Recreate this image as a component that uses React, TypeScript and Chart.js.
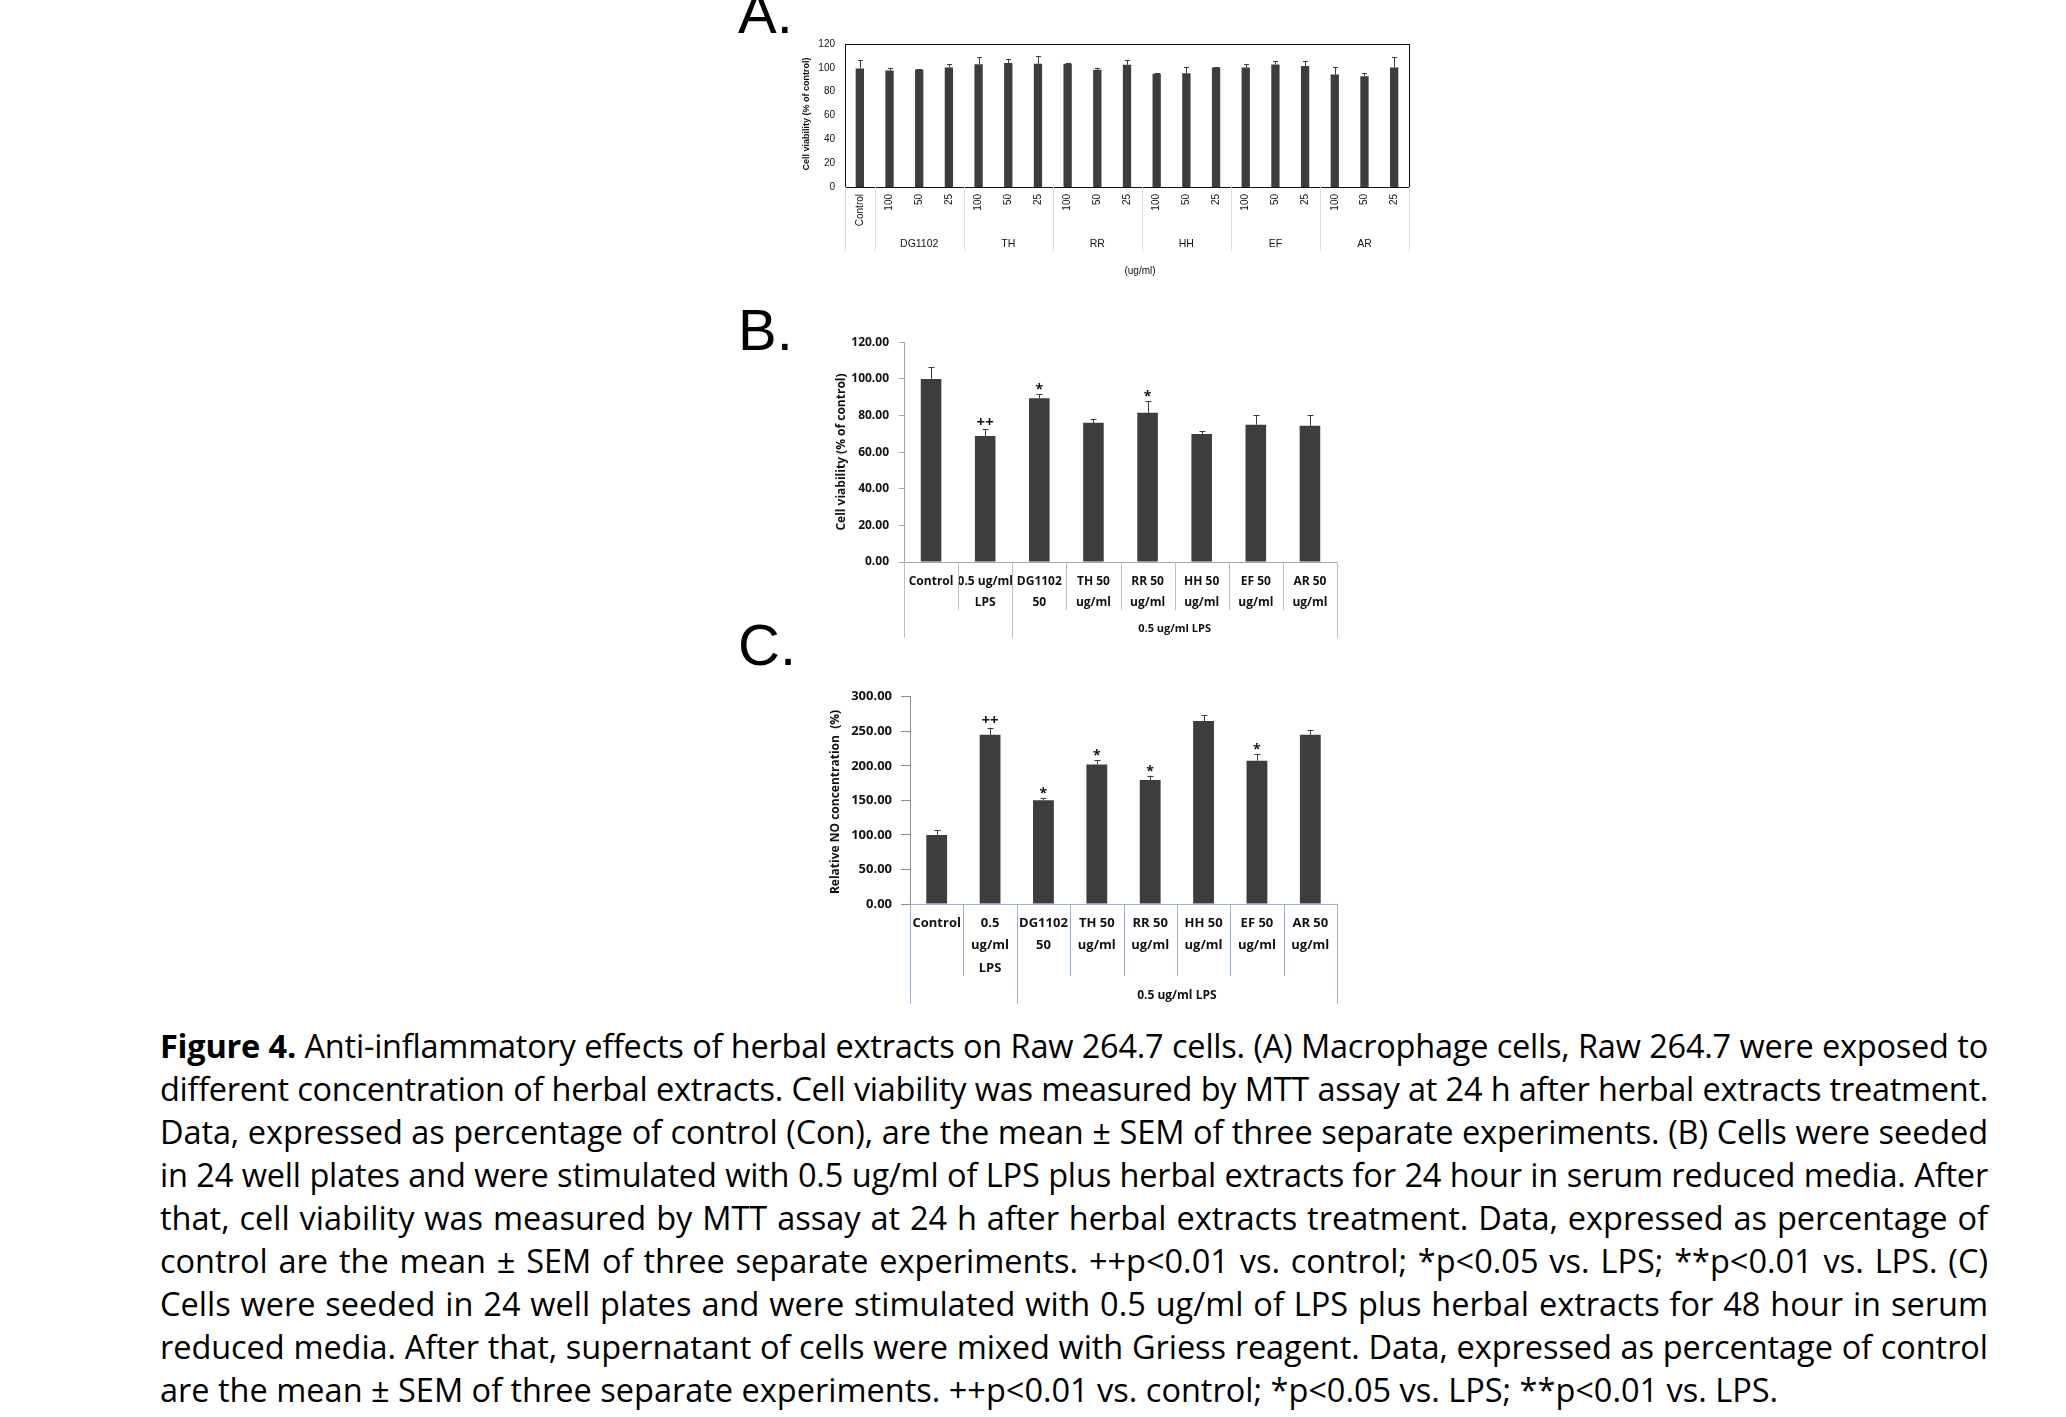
import React, { useEffect, useLayoutEffect, useRef } from "react";
import { Chart, registerables } from "chart.js";

Chart.register(...registerables);

// ---------------- Panel A data ----------------
const catsA = ["Control", "100", "50", "25", "100", "50", "25", "100", "50", "25", "100", "50", "25", "100", "50", "25", "100", "50", "25"];
const groupsA = ["DG1102", "TH", "RR", "HH", "EF", "AR"];
const valuesA = [99.5, 97.8, 98.6, 100.3, 103.1, 104, 103.4, 103.4, 98.4, 102.6, 95, 95.5, 100.3, 100.3, 102.9, 101.5, 94.4, 93, 100.3];
const errorsA = [6.7, 1.7, 0.4, 2.7, 5.9, 3.6, 6.6, 0.6, 1.6, 3.9, 0.5, 4.8, 0.3, 2.7, 2.8, 4.5, 6.2, 2.5, 8.7];
const unitA = "(ug/ml)";
const titleA = "Cell viability (% of control)";

// ---------------- Panel B data ----------------
const catsB = [["Control"], ["0.5 ug/ml", "LPS"], ["DG1102", "50"], ["TH 50", "ug/ml"], ["RR 50", "ug/ml"], ["HH 50", "ug/ml"], ["EF 50", "ug/ml"], ["AR 50", "ug/ml"]];
const valuesB = [100, 68.8, 89.4, 76, 81.5, 69.9, 75, 74.4];
const errorsB = [6.5, 3.6, 2.2, 2.0, 6.4, 1.4, 5.2, 5.8];
const marksB = ["", "++", "*", "", "*", "", "", ""];
const groupB = "0.5 ug/ml LPS";
const titleB = "Cell viability (% of control)";

// ---------------- Panel C data ----------------
const catsC = [["Control"], ["0.5", "ug/ml", "LPS"], ["DG1102", "50"], ["TH 50", "ug/ml"], ["RR 50", "ug/ml"], ["HH 50", "ug/ml"], ["EF 50", "ug/ml"], ["AR 50", "ug/ml"]];
const valuesC = [100, 245, 150, 202, 179.4, 264.8, 207.4, 245];
const errorsC = [6.6, 10, 3, 6.4, 6.3, 8.2, 9.6, 7];
const marksC = ["", "++", "*", "*", "*", "", "*", ""];
const groupC = "0.5 ug/ml LPS";
const titleC = "Relative NO concentration  (%)";

// ---------------- Caption ----------------
const captionBold = "Figure 4.";
const captionLines = [
  " Anti-inflammatory effects of herbal extracts on Raw 264.7 cells. (A) Macrophage cells, Raw 264.7 were exposed to",
  "different concentration of herbal extracts. Cell viability was measured by MTT assay at 24 h after herbal extracts treatment.",
  "Data, expressed as percentage of control (Con), are the mean ± SEM of three separate experiments. (B) Cells were seeded",
  "in 24 well plates and were stimulated with 0.5 ug/ml of LPS plus herbal extracts for 24 hour in serum reduced media. After",
  "that, cell viability was measured by MTT assay at 24 h after herbal extracts treatment. Data, expressed as percentage of",
  "control are the mean ± SEM of three separate experiments. ++p<0.01 vs. control; *p<0.05 vs. LPS; **p<0.01 vs. LPS. (C)",
  "Cells were seeded in 24 well plates and were stimulated with 0.5 ug/ml of LPS plus herbal extracts for 48 hour in serum",
  "reduced media. After that, supernatant of cells were mixed with Griess reagent. Data, expressed as percentage of control",
  "are the mean ± SEM of three separate experiments. ++p<0.01 vs. control; *p<0.05 vs. LPS; **p<0.01 vs. LPS.",
];

const ARIAL = "'Liberation Sans', Arial, sans-serif";
const OPEN = "'Open Sans', 'Noto Sans', sans-serif";
const BAR = "#3d3d3d";

type Txt = { text: string; x: number; y: number; font: string; rot?: boolean };
type Spec = {
  box: { left: number; top: number; width: number; height: number };
  area: { left: number; top: number; right: number; bottom: number };
  labels: any[];
  values: number[];
  errors: number[];
  marks?: string[];
  markFont?: string;
  plusFont?: string;
  yMax: number;
  yStep: number;
  yDec: number;
  barPct: number;
  cap: number;
  yFont: any;
  yPad: number;
  yTickLen: number;
  yAxisColor: string | null;
  xFont: any;
  xPad: number;
  xRot: number;
  xBorder: string | null;
  frame: boolean;
  sepColor: string;
  minorSeps: number[];
  minorBottom: number;
  majorSeps: number[];
  majorBottom: number;
  groups: { text: string; from: number; to: number; y: number; font: string }[];
  texts: Txt[];
};

function overlay(s: Spec) {
  return {
    id: "overlay",
    afterDraw(chart: any) {
      const { ctx, chartArea } = chart;
      const xs = chart.scales.x;
      const ys = chart.scales.y;
      const ox = s.box.left;
      const oy = s.box.top;
      const bx = (k: number) => xs.getPixelForValue(k - 0.5);
      ctx.save();
      if (s.frame) {
        ctx.strokeStyle = "#111";
        ctx.lineWidth = 1;
        ctx.strokeRect(Math.round(chartArea.left) + 0.5, Math.round(chartArea.top) + 0.5,
          Math.round(chartArea.right - chartArea.left), Math.round(chartArea.bottom - chartArea.top));
      }
      // separators below axis
      ctx.strokeStyle = s.sepColor;
      ctx.lineWidth = 1;
      const drawSep = (k: number, bottom: number) => {
        const x = Math.round(bx(k)) + 0.5;
        ctx.beginPath();
        ctx.moveTo(x, chartArea.bottom);
        ctx.lineTo(x, bottom - oy);
        ctx.stroke();
      };
      s.minorSeps.forEach((k) => drawSep(k, s.minorBottom));
      s.majorSeps.forEach((k) => drawSep(k, s.majorBottom));
      // error bars + marks
      const meta = chart.getDatasetMeta(0);
      ctx.strokeStyle = BAR;
      ctx.fillStyle = "#111";
      meta.data.forEach((bar: any, i: number) => {
        const x = Math.round(bar.x) + 0.5;
        const yv = ys.getPixelForValue(s.values[i]);
        const yt = ys.getPixelForValue(s.values[i] + s.errors[i]);
        ctx.beginPath();
        ctx.moveTo(x, yv);
        ctx.lineTo(x, yt);
        ctx.moveTo(x - s.cap, Math.round(yt) + 0.5);
        ctx.lineTo(x + s.cap, Math.round(yt) + 0.5);
        ctx.stroke();
        const m = s.marks ? s.marks[i] : "";
        if (m) {
          ctx.font = m === "*" ? s.markFont : s.plusFont;
          ctx.textAlign = "center";
          ctx.textBaseline = "alphabetic";
          ctx.fillText(m, bar.x, yt - (m === "*" ? 0 : 2.5));
        }
      });
      // group labels
      ctx.fillStyle = "#111";
      ctx.textAlign = "center";
      ctx.textBaseline = "middle";
      s.groups.forEach((g) => {
        ctx.font = g.font;
        ctx.fillText(g.text, (bx(g.from) + bx(g.to)) / 2, g.y - oy);
      });
      // free texts
      s.texts.forEach((t) => {
        ctx.save();
        ctx.font = t.font;
        ctx.translate(t.x - ox, t.y - oy);
        if (t.rot) ctx.rotate(-Math.PI / 2);
        ctx.fillText(t.text, 0, 0);
        ctx.restore();
      });
      ctx.restore();
    },
  };
}

function buildConfig(s: Spec): any {
  const a = s.area;
  const b = s.box;
  return {
    type: "bar",
    data: {
      labels: s.labels,
      datasets: [{
        data: s.values,
        backgroundColor: BAR,
        borderWidth: 0,
        barPercentage: s.barPct,
        categoryPercentage: 1,
      }],
    },
    options: {
      responsive: false,
      animation: false,
      devicePixelRatio: 1,
      events: [],
      layout: { padding: { left: 0, top: a.top - b.top, right: b.left + b.width - a.right, bottom: 0 } },
      plugins: { legend: { display: false }, tooltip: { enabled: false }, title: { display: false } },
      scales: {
        x: {
          type: "category",
          offset: true,
          grid: { display: false, drawTicks: false },
          border: { display: !!s.xBorder, color: s.xBorder || "#000", width: 1 },
          ticks: { autoSkip: false, maxRotation: s.xRot, minRotation: s.xRot, padding: s.xPad, color: "#111", font: s.xFont },
          afterFit: (sc: any) => { sc.height = b.top + b.height - a.bottom; },
        },
        y: {
          type: "linear",
          min: 0,
          max: s.yMax,
          grid: s.yAxisColor
            ? { display: true, drawOnChartArea: false, drawTicks: true, tickLength: s.yTickLen, color: s.yAxisColor }
            : { display: false, drawTicks: false },
          border: { display: !!s.yAxisColor, color: s.yAxisColor || "#000", width: 1 },
          ticks: {
            stepSize: s.yStep,
            padding: s.yPad,
            color: "#111",
            font: s.yFont,
            callback: (v: any) => Number(v).toFixed(s.yDec),
          },
          afterFit: (sc: any) => { sc.width = a.left - b.left; },
        },
      },
    },
    plugins: [overlay(s)],
  };
}

const specA: Spec = {
  box: { left: 730, top: 0, width: 700, height: 290 },
  area: { left: 845, top: 44, right: 1409, bottom: 187 },
  labels: catsA,
  values: valuesA,
  errors: errorsA,
  yMax: 120,
  yStep: 20,
  yDec: 0,
  barPct: 0.28,
  cap: 2.5,
  yFont: { family: ARIAL, size: 10 },
  yPad: 10,
  yTickLen: 0,
  yAxisColor: null,
  xFont: { family: ARIAL, size: 10 },
  xPad: 7,
  xRot: 90,
  xBorder: null,
  frame: true,
  sepColor: "#dcdcdc",
  minorSeps: [],
  minorBottom: 250,
  majorSeps: [0, 1, 4, 7, 10, 13, 16, 19],
  majorBottom: 251,
  groups: groupsA.map((g, i) => ({ text: g, from: 1 + 3 * i, to: 4 + 3 * i, y: 244, font: `10.5px ${ARIAL}` })),
  texts: [
    { text: unitA, x: 1140, y: 271, font: `10px ${ARIAL}` },
    { text: titleA, x: 807, y: 114, font: `bold 9px ${ARIAL}`, rot: true },
  ],
};

const specB: Spec = {
  box: { left: 760, top: 300, width: 600, height: 345 },
  area: { left: 904, top: 342.3, right: 1337, bottom: 562 },
  labels: catsB,
  values: valuesB,
  errors: errorsB,
  marks: marksB,
  markFont: `bold 14px ${OPEN}`,
  plusFont: `bold 15px ${OPEN}`,
  yMax: 120,
  yStep: 20,
  yDec: 2,
  barPct: 0.38,
  cap: 3,
  yFont: { family: OPEN, size: 12, weight: "bold" },
  yPad: 10,
  yTickLen: 5,
  yAxisColor: "#a6a6a6",
  xFont: { family: OPEN, size: 12, weight: "bold", lineHeight: 1.75 },
  xPad: 9.5,
  xRot: 0,
  xBorder: "#a6a6a6",
  frame: false,
  sepColor: "#bfbfbf",
  minorSeps: [1, 3, 4, 5, 6, 7],
  minorBottom: 610,
  majorSeps: [0, 2, 8],
  majorBottom: 638,
  groups: [{ text: groupB, from: 2, to: 8, y: 629, font: `bold 11px ${OPEN}` }],
  texts: [{ text: titleB, x: 842, y: 452, font: `bold 12px ${OPEN}`, rot: true }],
};

const specC: Spec = {
  box: { left: 760, top: 670, width: 600, height: 345 },
  area: { left: 910, top: 696.7, right: 1337, bottom: 904 },
  labels: catsC,
  values: valuesC,
  errors: errorsC,
  marks: marksC,
  markFont: `bold 14px ${OPEN}`,
  plusFont: `bold 15px ${OPEN}`,
  yMax: 300,
  yStep: 50,
  yDec: 2,
  barPct: 0.39,
  cap: 3,
  yFont: { family: OPEN, size: 13, weight: "bold" },
  yPad: 9,
  yTickLen: 9,
  yAxisColor: "#8c8c8c",
  xFont: { family: OPEN, size: 13, weight: "bold", lineHeight: 1.73 },
  xPad: 7.75,
  xRot: 0,
  xBorder: "#95b3d7",
  frame: false,
  sepColor: "#95b3d7",
  minorSeps: [1, 3, 4, 5, 6, 7],
  minorBottom: 976,
  majorSeps: [0, 2, 8],
  majorBottom: 1004,
  groups: [{ text: groupC, from: 2, to: 8, y: 996, font: `bold 12px ${OPEN}` }],
  texts: [{ text: titleC, x: 836, y: 802, font: `bold 12px ${OPEN}`, rot: true }],
};

function BarPanel({ spec }: { spec: Spec }) {
  const ref = useRef<HTMLCanvasElement | null>(null);
  useEffect(() => {
    if (!ref.current) return;
    const chart = new Chart(ref.current, buildConfig(spec));
    return () => chart.destroy();
  }, [spec]);
  const b = spec.box;
  return (
    <canvas
      ref={ref}
      width={b.width}
      height={b.height}
      style={{ position: "absolute", left: b.left, top: b.top, width: b.width, height: b.height }}
    />
  );
}

function Letter({ text, top }: { text: string; top: number }) {
  return (
    <div style={{ position: "absolute", left: 738, top, fontFamily: ARIAL, fontSize: 58, lineHeight: "58px", color: "#000", whiteSpace: "nowrap" }}>
      {text}
    </div>
  );
}

const CAP_LEFT = 160;
const CAP_WIDTH = 1828;
const CAP_FONT = 32.5;

function Caption() {
  const refs = useRef<(HTMLDivElement | null)[]>([]);
  useLayoutEffect(() => {
    refs.current.forEach((div, i) => {
      if (!div) return;
      const span = div.firstElementChild as HTMLElement;
      const w = span.getBoundingClientRect().width;
      const len = (div.textContent || "").length;
      if (w > CAP_WIDTH - 3) {
        div.style.letterSpacing = `${-(w - (CAP_WIDTH - 6)) / len}px`;
      }
      if (i < captionLines.length - 1) {
        div.style.textAlign = "justify";
        (div.style as any).textAlignLast = "justify";
      }
    });
  }, []);
  return (
    <>
      {captionLines.map((line, i) => (
        <div
          key={i}
          ref={(el) => { refs.current[i] = el; }}
          style={{
            position: "absolute",
            left: CAP_LEFT,
            top: 1023.9 + 43 * i,
            width: CAP_WIDTH,
            fontFamily: OPEN,
            fontSize: CAP_FONT,
            lineHeight: "43px",
            color: "#000",
            whiteSpace: "nowrap",
            textAlign: "left",
          }}
        >
          <span>
            {i === 0 ? <b>{captionBold}</b> : null}
            {line}
          </span>
        </div>
      ))}
    </>
  );
}

export default function App() {
  return (
    <div style={{ position: "absolute", left: 0, top: 0, width: 2066, height: 1417, overflow: "hidden", background: "#fff" }}>
      <Letter text="A." top={-16} />
      <Letter text="B." top={301} />
      <Letter text="C." top={616} />
      <BarPanel spec={specA} />
      <BarPanel spec={specB} />
      <BarPanel spec={specC} />
      <Caption />
    </div>
  );
}
